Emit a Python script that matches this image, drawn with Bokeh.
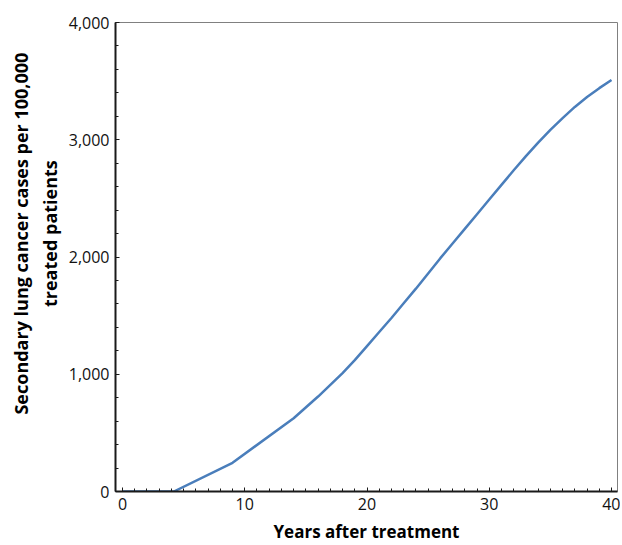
from bokeh.plotting import figure
from bokeh.models import Range1d, FixedTicker, NumeralTickFormatter
from bokeh.embed import file_html
from bokeh.resources import INLINE

years = [0, 2, 4, 4.2, 9, 14, 16, 18, 19, 20, 21, 22, 23, 24, 25, 26, 27, 28, 29, 30,
         31, 32, 33, 34, 35, 36, 37, 38, 39, 40]
cases = [0, 0, 0, 0, 245, 625, 810, 1010, 1120, 1240, 1360, 1480, 1605, 1730, 1860, 1990,
         2115, 2240, 2365, 2490, 2615, 2740, 2860, 2975, 3085, 3185, 3280, 3365, 3440, 3510]

x_ticks = [0, 10, 20, 30, 40]
y_ticks = [0, 1000, 2000, 3000, 4000]

x_title = "Years after treatment"
y_title_lines = ["Secondary lung cancer cases per 100,000", "treated patients"]

FONT = "Open Sans"
PAD = "\u00a0" * 10  # shifts the centred y title upward like the original

p = figure(width=620, height=545, output_backend="svg", toolbar_location=None,
           x_range=Range1d(-0.573, 40.49), y_range=Range1d(0, 4000),
           min_border_left=115, min_border_right=3, min_border_top=22, min_border_bottom=53)

p.line(years, cases, line_color="#4A7EBB", line_width=2.5)

p.grid.visible = False
p.outline_line_color = "#808080"
p.outline_line_width = 1
p.background_fill_color = "white"
p.border_fill_color = "white"

for ax in (p.xaxis[0], p.yaxis[0]):
    ax.axis_line_color = "#1a1a1a"
    ax.axis_line_width = 2
    ax.major_tick_line_color = "#1a1a1a"
    ax.minor_tick_line_color = "#1a1a1a"
    ax.major_tick_in = 4
    ax.major_tick_out = 0
    ax.minor_tick_in = 3
    ax.minor_tick_out = 0
    ax.major_label_text_font = FONT
    ax.major_label_text_font_size = "16px"
    ax.major_label_text_color = "#111111"
    ax.axis_label_text_font = FONT
    ax.axis_label_text_font_size = "17px"
    ax.axis_label_text_font_style = "bold"
    ax.axis_label_text_color = "#000000"

p.yaxis.axis_label_text_font_size = "18px"

p.xaxis.ticker = FixedTicker(ticks=x_ticks, minor_ticks=list(range(0, 41)))
p.yaxis.ticker = FixedTicker(ticks=y_ticks, minor_ticks=list(range(0, 4001, 200)))
p.yaxis.formatter = NumeralTickFormatter(format="0,0")
p.xaxis.major_label_standoff = 6
p.yaxis.major_label_standoff = 6
p.xaxis.axis_label = x_title
p.xaxis.axis_label_standoff = 7
p.yaxis.axis_label = "\n".join(PAD + t for t in y_title_lines)
p.yaxis.axis_label_standoff = 4

open("out.html", "w").write(file_html(p, INLINE))
